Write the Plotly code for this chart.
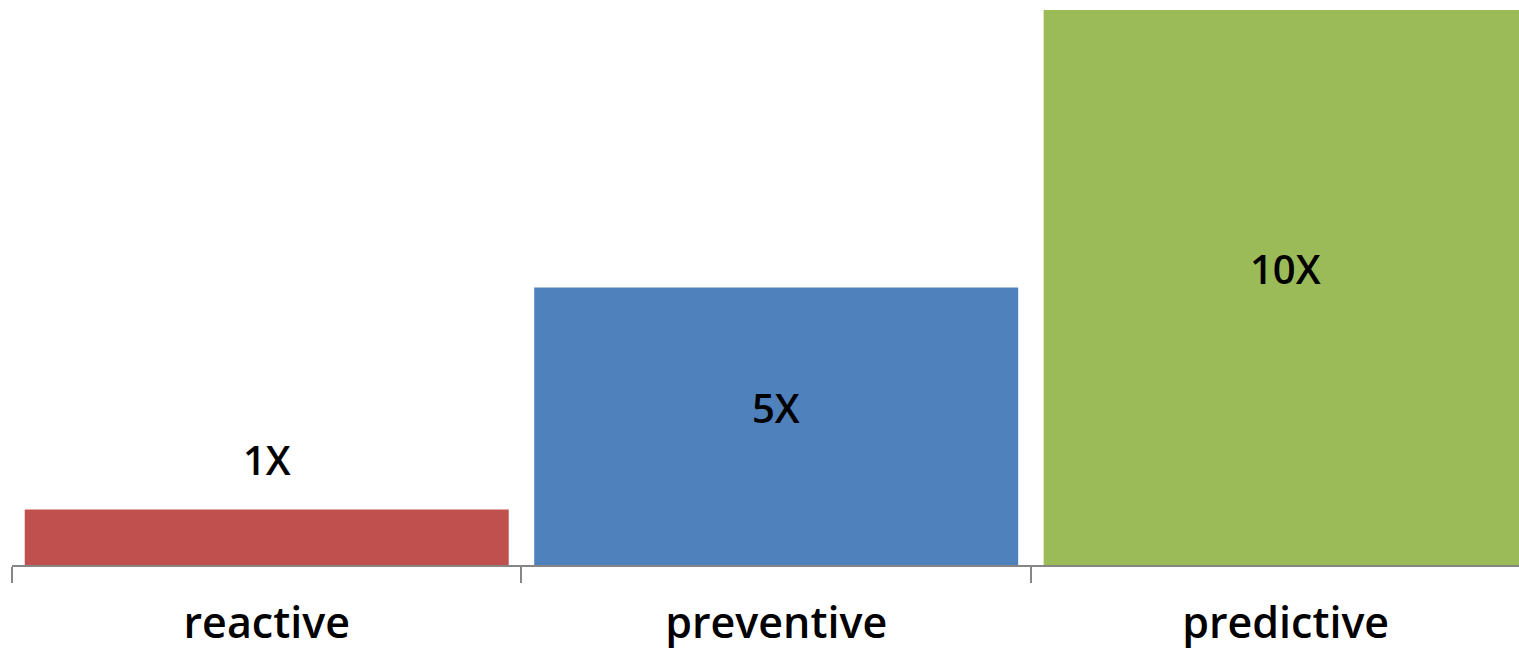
import plotly.graph_objects as go

categories = ["reactive", "preventive", "predictive"]
values = [1, 5, 10]
labels = ["1X", "5X", "10X"]
colors = ["#C0504D", "#4F81BD", "#9BBB59"]
label_y = [1.91, 2.83, 5.35]

FONT = "Open Sans"

fig = go.Figure()
fig.add_trace(go.Bar(
    x=categories, y=values, marker=dict(color=colors, line=dict(width=0)),
    hoverinfo="skip", showlegend=False,
))

for c, t, ly in zip(categories, labels, label_y):
    fig.add_annotation(x=c, y=ly, text=t, showarrow=False,
                       font=dict(family=FONT, size=40, color="#000000", weight=600),
                       xanchor="center", yanchor="middle")

fig.update_layout(
    width=1519, height=658,
    margin=dict(l=12, r=0, t=10, b=93, autoexpand=False),
    paper_bgcolor="white", plot_bgcolor="white",
    bargap=0.05,
    xaxis=dict(
        type="category", range=[-0.5, 2.458], automargin=False,
        showline=True, linecolor="#868686", linewidth=1.5,
        ticks="outside", tickson="boundaries", ticklen=16, tickcolor="#868686", tickwidth=1.5,
        tickfont=dict(family=FONT, size=43, color="#000000", weight=600),
        ticklabelstandoff=20,
        showgrid=False, zeroline=False,
    ),
    yaxis=dict(range=[0, 10], visible=False, showgrid=False, zeroline=False, automargin=False),
)

fig.write_html("out.html", config={"displayModeBar": False})
